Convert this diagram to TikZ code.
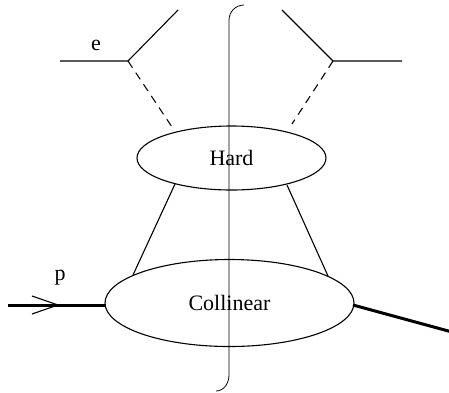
\documentclass[tikz,border=0pt]{standalone}
\usepackage{fontspec}
\setmainfont{Liberation Serif}
\usetikzlibrary{shapes.geometric}
\begin{document}
\begin{tikzpicture}[x=1pt,y=-1pt,
  blob/.style={draw,ellipse,line width=1.1pt,inner sep=0pt,font=\fontsize{22}{26}\selectfont},
  thinline/.style={line width=1.1pt},
  thickline/.style={line width=3pt},
  dashline/.style={line width=1.1pt,dash pattern=on 8pt off 6pt},
  cutline/.style={line width=0.8pt},
  lbl/.style={font=\fontsize{22}{26}\selectfont,inner sep=0pt}]
\useasboundingbox (0,0) rectangle (449,392);
% blobs
\node[blob,minimum width=189pt,minimum height=64pt] (hard) at (231.5,158) {Hard};
\node[blob,minimum width=249pt,minimum height=87pt] (coll) at (229.5,303) {Collinear};
% lepton vertices
\coordinate (vl) at (128,61);
\coordinate (vr) at (333,61);
\coordinate (lin) at (60,61);
\coordinate (lout) at (178,10);
\coordinate (rin) at (402,61);
\coordinate (rout) at (282,10);
\draw[thinline] (lin) -- (vl) -- (lout);
\draw[thinline] (rin) -- (vr) -- (rout);
\node[lbl] (e) at (96,45) {e};
% photons
\coordinate (gl) at (174,130);
\coordinate (gr) at (292,124);
\draw[dashline] (vl) -- (gl);
\draw[dashline] (vr) -- (gr);
% hard to collinear
\coordinate (h1) at (175,184);
\coordinate (c1) at (133,275);
\coordinate (h2) at (287,185);
\coordinate (c2) at (328,276);
\draw[thinline] (h1) -- (c1);
\draw[thinline] (h2) -- (c2);
% incoming proton
\coordinate (pin) at (8,305);
\coordinate (pend) at (106,305);
\coordinate (ptip) at (58,305);
\coordinate (pa1) at (32,296);
\coordinate (pa2) at (32,314);
\draw[thickline] (pin) -- (pend);
\draw[thinline] (pa1) -- (ptip) -- (pa2);
\node[lbl] (p) at (60,278) {p};
% outgoing
\coordinate (xst) at (353,305);
\coordinate (xout) at (452,332);
\draw[thickline] (xst) -- (xout);
% cut
\coordinate (ct) at (244,5);
\coordinate (cb) at (216,391);
\draw[cutline] (ct) to[out=180,in=90] (229,20) -- (229,375) to[out=-90,in=0] (cb);
\end{tikzpicture}
\end{document}
